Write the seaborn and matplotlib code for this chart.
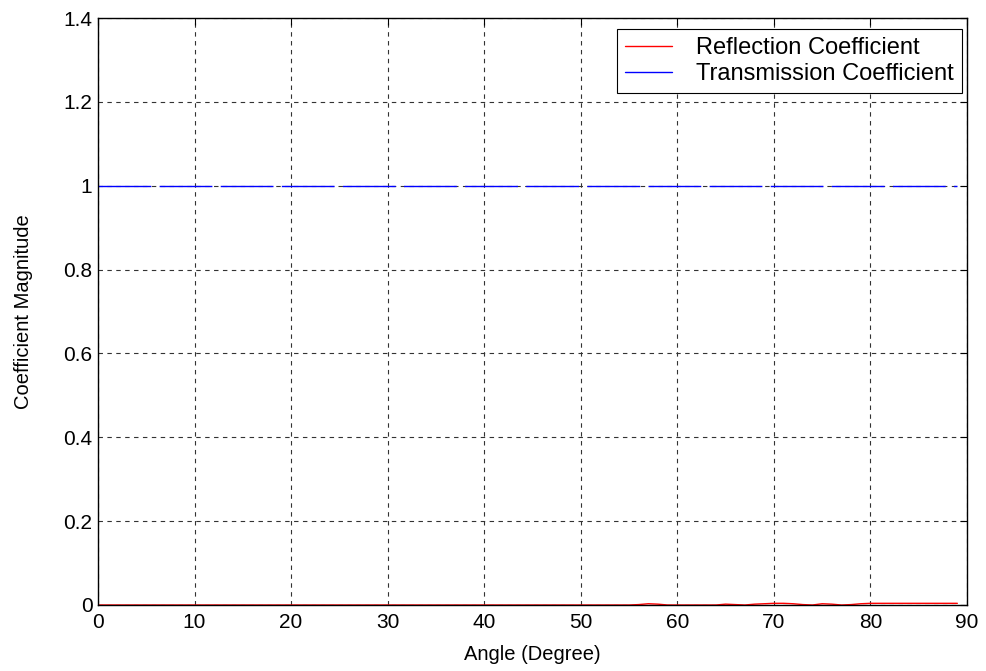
import numpy as np
import pandas as pd
import seaborn as sns
import matplotlib
matplotlib.use("Agg")
import matplotlib.pyplot as plt

angles = list(range(0, 90))
reflection = [0.0]*56 + [0.001, 0.003, 0.002, 0.0, 0.0, 0.0, 0.0, 0.0, 0.0, 0.002, 0.001,
              0.0, 0.002, 0.003, 0.004, 0.004, 0.003, 0.001, 0.0, 0.003, 0.002, 0.0,
              0.001, 0.003, 0.004, 0.004, 0.004, 0.004, 0.004, 0.004, 0.004, 0.004, 0.004, 0.004]
reflection = reflection[:90]
transmission = [1.0]*90

xticks = [0, 10, 20, 30, 40, 50, 60, 70, 80, 90]
yticks = [0, 0.2, 0.4, 0.6, 0.8, 1.0, 1.2, 1.4]
ytick_labels = ["0", "0.2", "0.4", "0.6", "0.8", "1", "1.2", "1.4"]

sns.set_style("white")
plt.rcParams['font.family'] = ['Liberation Sans', 'DejaVu Sans']
plt.rcParams['text.color'] = 'black'
plt.rcParams['axes.labelcolor'] = 'black'

W, H = 987, 671
fig = plt.figure(figsize=(W/100, H/100), dpi=100)
ax = fig.add_axes([98/W, 1-605/H, (967-98)/W, (605-18)/H])

df = pd.DataFrame({"Angle": angles, "Reflection Coefficient": reflection,
                   "Transmission Coefficient": transmission})

sns.lineplot(data=df, x="Angle", y="Reflection Coefficient", ax=ax, color="#ff0000",
             linewidth=1.0, label="Reflection Coefficient")
sns.lineplot(data=df, x="Angle", y="Transmission Coefficient", ax=ax, color="#0000ff",
             linewidth=1.0, label="Transmission Coefficient")
ax.lines[1].set_dashes([38, 6])

ax.set_xlim(0, 90)
ax.set_ylim(0, 1.4)
ax.set_xticks(xticks)
ax.set_yticks(yticks)
ax.set_yticklabels(ytick_labels)
ax.grid(True, linestyle=(0, (4, 4)), color="#333333", linewidth=0.8)
ax.set_axisbelow(True)
ax.tick_params(direction="in", length=5, width=0.8, labelsize=15, colors="black",
               top=True, right=True)
ax.tick_params(axis="x", pad=6)
ax.tick_params(axis="y", pad=4)
for s in ax.spines.values():
    s.set_color("black")
    s.set_linewidth(1.0)
ax.set_xlabel("Angle (Degree)", fontsize=14.5, labelpad=9, color="black")
ax.set_ylabel("Coefficient Magnitude", fontsize=14.5, labelpad=22, color="black")

anchor = ax.transAxes.inverted().transform(fig.transFigure.transform((962/W, 1-29/H)))
leg = ax.legend(loc="upper right", bbox_to_anchor=tuple(anchor), borderaxespad=0,
                fontsize=17, frameon=True, fancybox=False,
                edgecolor="black", framealpha=1, handlelength=2.0, borderpad=0.35,
                labelspacing=0.15, handletextpad=1.0)
leg.get_frame().set_linewidth(0.8)
for l in leg.get_lines():
    l.set_linestyle("-")
    l.set_linewidth(1.0)

fig.savefig("out.png", dpi=100)
